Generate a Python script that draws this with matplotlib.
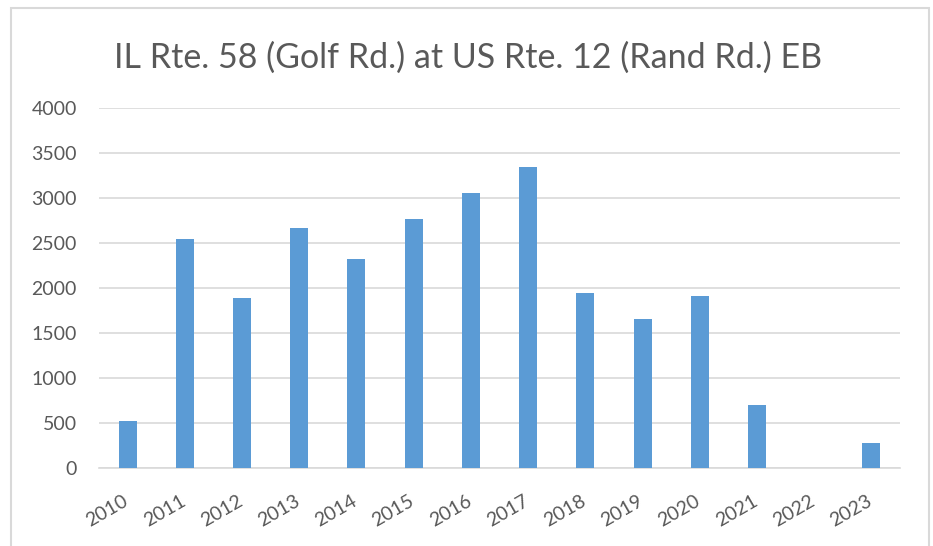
import matplotlib
matplotlib.use("Agg")
import matplotlib.pyplot as plt
from matplotlib.patches import Rectangle
from matplotlib.transforms import ScaledTranslation

years = ['2010', '2011', '2012', '2013', '2014', '2015', '2016',
         '2017', '2018', '2019', '2020', '2021', '2022', '2023']
volumes = [519, 2538, 1885, 2663, 2315, 2763, 3049,
           3338, 1944, 1652, 1908, 697, 0, 271]
y_ticks = [0, 500, 1000, 1500, 2000, 2500, 3000, 3500, 4000]

plt.rcParams['font.family'] = ['Lato', 'DejaVu Sans']

fig = plt.figure(figsize=(9.33, 5.46), dpi=100)
ax = fig.add_axes([0.1061, 0.1434, 0.8585, 0.6593])

ax.bar(range(len(years)), volumes, width=0.315, color='#5b9bd5', zorder=3)

ax.set_xlim(-0.5, len(years) - 0.5)
ax.set_ylim(0, 4000)
ax.set_yticks(y_ticks)
ax.set_xticks(range(len(years)))
ax.set_xticklabels(years, rotation=30, ha='right', rotation_mode='anchor')
ax.tick_params(axis='both', length=0, labelsize=14, colors='#595959')
ax.tick_params(axis='y', pad=16)
ax.tick_params(axis='x', pad=18)

# nudge the slanted year labels a little to the left
shift = ScaledTranslation(-5 / 100, 0, fig.dpi_scale_trans)
for lbl in ax.get_xticklabels():
    lbl.set_transform(lbl.get_transform() + shift)

ax.yaxis.grid(True, color='#d9d9d9', linewidth=1.2, zorder=0)
for s in ['top', 'right', 'left']:
    ax.spines[s].set_visible(False)
ax.spines['bottom'].set_color('#d9d9d9')
ax.spines['bottom'].set_linewidth(1.2)

fig.text(0.502, 0.895, 'IL Rte. 58 (Golf Rd.) at US Rte. 12 (Rand Rd.) EB',
         ha='center', va='center', fontsize=24.5, color='#595959')

# light frame around the chart like the Excel chart area
fig.patches.append(Rectangle((11 / 933, -0.01), 918 / 933, 1 - 8 / 546 + 0.01,
                             transform=fig.transFigure, fill=False,
                             edgecolor='#d9d9d9', linewidth=1.5))

fig.savefig('out.png', dpi=100)
